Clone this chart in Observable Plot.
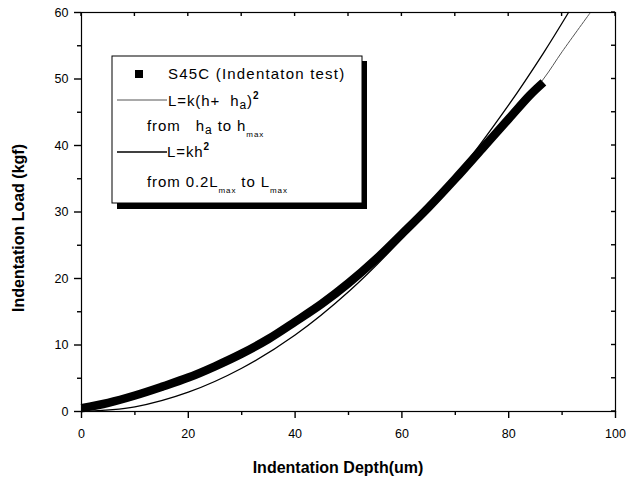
<!DOCTYPE html>
<html><head><meta charset="utf-8">
<script src="https://cdn.jsdelivr.net/npm/d3@7"></script>
<script src="https://cdn.jsdelivr.net/npm/@observablehq/plot@0.6"></script>
<style>
body{margin:0;background:#fff;}
svg{font-family:"Liberation Sans",Arial,sans-serif;}
</style>
</head><body>
<div id="chart"></div>
<script>
// Measured data: S45C indentation test
const depth = [0, 5, 10, 15, 20, 25, 30, 35, 40, 45, 50, 55, 60, 65, 70, 75, 80, 84, 86.5];
const load  = [0.5, 1.3, 2.4, 3.7, 5.1, 6.8, 8.7, 10.9, 13.5, 16.2, 19.3, 22.8, 26.7, 30.7, 35.0, 39.5, 44.0, 47.6, 49.5];
// Fit L = k(h + ha)^2
const fit1H = [0, 10, 20, 30, 40, 50, 60, 70, 80, 86.5, 90, 95.3];
const fit1L = [0.5, 2.2, 4.9, 8.7, 13.5, 19.5, 26.5, 34.6, 43.8, 50.0, 54.1, 60];
// Fit L = kh^2
const fit2H = [0, 10, 20, 30, 40, 50, 60, 70, 80, 86.5, 91.2];
const fit2L = [0, 0.7, 2.9, 6.5, 11.5, 18.0, 26.0, 35.3, 46.1, 53.9, 60];
const xLabelTicks = [0, 20, 40, 60, 80, 100];
const xMinorTicks = [10, 30, 50, 70, 90];
const yLabelTicks = [0, 10, 20, 30, 40, 50, 60];
const yMinorTicks = [5, 15, 25, 35, 45, 55];

const data = depth.map((h, i) => ({h, L: load[i]}));
const f1 = fit1H.map((h, i) => ({h, L: fit1L[i]}));
const f2 = fit2H.map((h, i) => ({h, L: fit2L[i]}));

const font = '"Liberation Sans",Arial,sans-serif';
const plot = Plot.plot({
  width: 628, height: 480,
  marginLeft: 81, marginRight: 13, marginTop: 12, marginBottom: 69,
  style: {fontFamily: font, fontSize: "12.5px", color: "black", background: "white"},
  x: {domain: [0, 100]},
  y: {domain: [0, 60]},
  marks: [
    Plot.line(f1, {x: "h", y: "L", stroke: "#555", strokeWidth: 1, curve: "catmull-rom"}),
    Plot.line(data, {x: "h", y: "L", stroke: "black", strokeWidth: 8.5, curve: "catmull-rom", strokeLinecap: "butt"}),
    Plot.line(f2, {x: "h", y: "L", stroke: "black", strokeWidth: 1.3, curve: "catmull-rom"}),
    Plot.frame({stroke: "black", strokeWidth: 1.2}),
    Plot.axisX({ticks: xLabelTicks, tickSize: 7, tickPadding: 11, label: null, fontSize: 12.5, strokeWidth: 1.4}),
    Plot.axisX({ticks: xMinorTicks, tickSize: 4, tickFormat: () => "", label: null, strokeWidth: 1.4}),
    Plot.axisY({ticks: yLabelTicks, tickSize: 7, tickPadding: 6, label: null, fontSize: 12.5, strokeWidth: 1.4}),
    Plot.axisY({ticks: yMinorTicks, tickSize: 4, tickFormat: () => "", label: null, strokeWidth: 1.4})
  ]
});
document.getElementById("chart").appendChild(plot);

const svg = d3.select(plot);
const xs = plot.scale("x"), ys = plot.scale("y");
const X1 = xs.range[1], Y1 = ys.range[1];
const tg = svg.append("g").attr("stroke", "black").attr("stroke-width", 1.4);
// top ticks (inward)
xLabelTicks.concat(xMinorTicks).forEach(v => {
  const px = xs.apply(v);
  tg.append("line").attr("x1", px).attr("x2", px).attr("y1", Y1).attr("y2", Y1 + 4);
});
// right ticks (inward)
yLabelTicks.concat(yMinorTicks).forEach(v => {
  const py = ys.apply(v);
  tg.append("line").attr("x1", X1 - 4).attr("x2", X1).attr("y1", py).attr("y2", py);
});

// axis titles
svg.append("text").attr("x", 338).attr("y", 473).attr("text-anchor", "middle")
  .attr("font-size", 16).attr("font-weight", "bold").attr("font-family", font).text("Indentation Depth(um)");
svg.append("text").attr("transform", "translate(24,228) rotate(-90)").attr("text-anchor", "middle")
  .attr("font-size", 16).attr("font-weight", "bold").attr("font-family", font).text("Indentation Load (kgf)");

// legend
const g = svg.append("g").attr("font-family", font).attr("font-size", 15).attr("text-anchor", "start");
g.append("rect").attr("x", 117).attr("y", 61).attr("width", 250).attr("height", 148).attr("fill", "black");
g.append("rect").attr("x", 112).attr("y", 56).attr("width", 250).attr("height", 147).attr("fill", "white").attr("stroke", "black").attr("stroke-width", 1);
g.append("rect").attr("x", 135).attr("y", 70).attr("width", 8).attr("height", 8).attr("fill", "black");
g.append("text").attr("x", 168).attr("y", 79).attr("letter-spacing", 1.2).text("S45C (Indentaton test)");
g.append("line").attr("x1", 117).attr("x2", 167).attr("y1", 100).attr("y2", 100).attr("stroke", "#555").attr("stroke-width", 1);
const t1 = g.append("text").attr("x", 168).attr("y", 106).attr("letter-spacing", 0.9);
t1.append("tspan").text("L=k(h+  h");
t1.append("tspan").attr("font-size", 12).attr("dy", 3).text("a");
t1.append("tspan").attr("dy", -3).text(")");
t1.append("tspan").attr("font-size", 10).attr("font-weight", "bold").attr("dy", -7).text("2");
const t2 = g.append("text").attr("x", 147).attr("y", 131).attr("letter-spacing", 0.9);
t2.append("tspan").text("from   h");
t2.append("tspan").attr("font-size", 12).attr("dy", 3).text("a");
t2.append("tspan").attr("dy", -3).text(" to h");
t2.append("tspan").attr("font-size", 8).attr("dy", 6).text("max");
g.append("line").attr("x1", 117).attr("x2", 167).attr("y1", 152).attr("y2", 152).attr("stroke", "black").attr("stroke-width", 1.6);
const t3 = g.append("text").attr("x", 167).attr("y", 157).attr("letter-spacing", 0.9);
t3.append("tspan").text("L=kh");
t3.append("tspan").attr("font-size", 10).attr("font-weight", "bold").attr("dy", -7).text("2");
const t4 = g.append("text").attr("x", 147).attr("y", 187).attr("letter-spacing", 0.9);
t4.append("tspan").text("from 0.2L");
t4.append("tspan").attr("font-size", 8).attr("dy", 6).text("max");
t4.append("tspan").attr("dy", -6).text(" to L");
t4.append("tspan").attr("font-size", 8).attr("dy", 6).text("max");
</script>
</body></html>
